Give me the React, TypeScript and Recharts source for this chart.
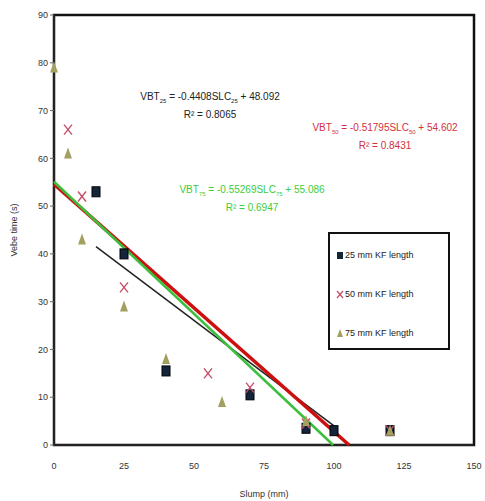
import React from 'react';
import { ComposedChart, Scatter, XAxis, YAxis, ReferenceArea } from 'recharts';

const xTicks = [0, 25, 50, 75, 100, 125, 150];
const yTicks = [0, 10, 20, 30, 40, 50, 60, 70, 80, 90];

const kf25 = [
  { x: 15, y: 53 }, { x: 25, y: 40 }, { x: 40, y: 15.5 }, { x: 70, y: 10.5 },
  { x: 90, y: 3.5 }, { x: 100, y: 3 }, { x: 120, y: 3 },
];
const kf50 = [
  { x: 5, y: 66 }, { x: 10, y: 52 }, { x: 25, y: 33 }, { x: 55, y: 15 },
  { x: 70, y: 12 }, { x: 90, y: 4.5 }, { x: 120, y: 3 },
];
const kf75 = [
  { x: 0, y: 79 }, { x: 5, y: 61 }, { x: 10, y: 43 }, { x: 25, y: 29 },
  { x: 40, y: 18 }, { x: 60, y: 9 }, { x: 90, y: 5 }, { x: 120, y: 3 },
];
const trend25 = [{ x: 15, y: 41.5 }, { x: 100, y: 4 }];
const trend50 = [{ x: 0, y: 54.6 }, { x: 105.4, y: 0 }];
const trend75 = [{ x: 0, y: 55.1 }, { x: 99.7, y: 0 }];

const legendItems = ['25 mm KF length', '50 mm KF length', '75 mm KF length'];

const FONT = '"Liberation Sans Narrow", "Liberation Sans", Arial, sans-serif';

const Square = (p: any) => (
  <rect x={p.cx - 4} y={p.cy - 5} width={8} height={10} fill="#14243a" stroke="#000" strokeWidth={1} />
);
const Cross = (p: any) => (
  <g stroke="#c4506a" strokeWidth={1.4}>
    <line x1={p.cx - 4} y1={p.cy - 5} x2={p.cx + 4} y2={p.cy + 5} />
    <line x1={p.cx + 4} y1={p.cy - 5} x2={p.cx - 4} y2={p.cy + 5} />
  </g>
);
const Tri = (p: any) => (
  <polygon points={`${p.cx},${p.cy - 6} ${p.cx + 4},${p.cy + 5} ${p.cx - 4},${p.cy + 5}`} fill="#a3a060" />
);
const Nothing = () => <g />;

const LegendBox = () => (
  <div
    style={{
      position: 'absolute', left: 328, top: 232, width: 122, height: 118,
      border: '2px solid #111', background: '#fff', boxSizing: 'border-box',
      fontFamily: FONT, fontSize: 9, color: '#222', paddingTop: 1,
    }}
  >
    {legendItems.map((t, i) => (
      <div key={t} style={{ display: 'flex', alignItems: 'center', height: 39, paddingLeft: 6 }}>
        <svg width={8} height={10} style={{ marginRight: 1 }}>
          {i === 0 && <rect x={1} y={2} width={6} height={7} fill="#14243a" />}
          {i === 1 && (
            <g stroke="#c4506a" strokeWidth={1.2}>
              <line x1={1} y1={2} x2={7} y2={9} />
              <line x1={7} y1={2} x2={1} y2={9} />
            </g>
          )}
          {i === 2 && <polygon points="4,1 7,9 1,9" fill="#a3a060" />}
        </svg>
        <span>{t}</span>
      </div>
    ))}
  </div>
);

const eqStyle: React.CSSProperties = {
  position: 'absolute',
  fontFamily: FONT,
  fontSize: 10,
  textAlign: 'center',
  lineHeight: '13px',
  transform: 'translateX(-50%)',
  whiteSpace: 'nowrap',
};

export default function App() {
  return (
    <div style={{ position: 'absolute', left: 0, top: 0, width: 485, height: 501, background: '#fff' }}>
      <ComposedChart
        width={485}
        height={501}
        margin={{ top: 15, right: 11, left: 14, bottom: 0 }}
        style={{ fontFamily: FONT }}
      >
        <XAxis
          dataKey="x"
          type="number"
          domain={[0, 150]}
          ticks={xTicks}
          height={56}
          tick={{ fontSize: 9, fill: '#333' }}
          tickLine={false}
          tickMargin={12}
          axisLine={{ stroke: '#222', strokeWidth: 2 }}
          label={{ value: 'Slump (mm)', position: 'insideBottom', offset: 4, fontSize: 9, fill: '#333' }}
        />
        <YAxis
          dataKey="y"
          type="number"
          domain={[0, 90]}
          ticks={yTicks}
          width={40}
          tick={{ fontSize: 9, fill: '#333' }}
          tickSize={4}
          tickLine={{ stroke: '#666' }}
          axisLine={{ stroke: '#222', strokeWidth: 2 }}
          label={{ value: 'Vebe time (s)', angle: -90, position: 'insideLeft', offset: 0, fontSize: 9, fill: '#333', style: { textAnchor: 'middle' } }}
        />
        <ReferenceArea x1={0} x2={150} y1={0} y2={90} fill="none" stroke="#111" strokeWidth={2.5} ifOverflow="visible" />
        <Scatter name="t25" data={trend25} line={{ stroke: '#222', strokeWidth: 1.5 }} shape={Nothing} isAnimationActive={false} />
        <Scatter name="t50" data={trend50} line={{ stroke: '#cc1010', strokeWidth: 3.5 }} shape={Nothing} isAnimationActive={false} />
        <Scatter name="t75" data={trend75} line={{ stroke: '#3cbf3c', strokeWidth: 2.5 }} shape={Nothing} isAnimationActive={false} />
        <Scatter name="25 mm KF length" data={kf25} shape={Square} isAnimationActive={false} />
        <Scatter name="50 mm KF length" data={kf50} shape={Cross} isAnimationActive={false} />
        <Scatter name="75 mm KF length" data={kf75} shape={Tri} isAnimationActive={false} />
      </ComposedChart>
      <LegendBox />
      <div style={{ ...eqStyle, left: 210, top: 90, color: '#222' }}>
        VBT<sub style={{ fontSize: 6 }}>25</sub> = -0.4408SLC<sub style={{ fontSize: 6 }}>25</sub> + 48.092
        <br />R² = 0.8065
      </div>
      <div style={{ ...eqStyle, left: 385, top: 121, color: '#d03040' }}>
        VBT<sub style={{ fontSize: 6 }}>50</sub> = -0.51795SLC<sub style={{ fontSize: 6 }}>50</sub> + 54.602
        <br />R² = 0.8431
      </div>
      <div style={{ ...eqStyle, left: 252, top: 183, color: '#3ccc3c' }}>
        VBT<sub style={{ fontSize: 6 }}>75</sub> = -0.55269SLC<sub style={{ fontSize: 6 }}>75</sub> + 55.086
        <br />R² = 0.6947
      </div>
    </div>
  );
}
